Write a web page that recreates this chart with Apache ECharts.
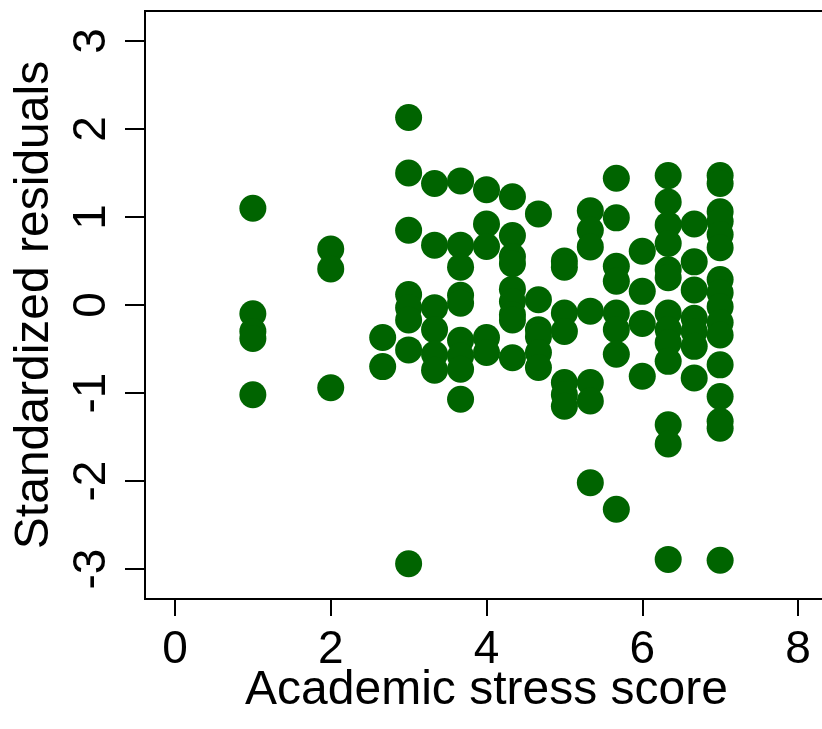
<!DOCTYPE html>
<html>
<head>
<meta charset="utf-8">
<script src="https://cdn.jsdelivr.net/npm/echarts@6/dist/echarts.min.js"></script>
<style>
html,body{margin:0;padding:0;background:#fff;}
#chart{width:822px;height:729px;}
</style>
</head>
<body>
<div id="chart"></div>
<script>
// Academic stress score columns (x) and the standardized residuals read in each column (y)
const stressScores = [1, 2, 2.667, 3, 3.333, 3.667, 4, 4.333, 4.667, 5, 5.333, 5.667, 6, 6.333, 6.667, 7];
const residualsByScore = [
  [1.10, -0.10, -0.30, -0.38, -1.02],
  [0.635, 0.41, -0.94],
  [-0.37, -0.70],
  [2.13, 1.50, 0.85, 0.12, -0.03, -0.17, -0.51, -2.94],
  [1.38, 0.68, -0.03, -0.28, -0.56, -0.74],
  [1.41, 0.68, 0.43, 0.11, 0.02, -0.40, -0.58, -0.73, -1.07],
  [1.31, 0.92, 0.665, -0.37, -0.54],
  [1.23, 0.79, 0.55, 0.47, 0.18, 0.04, -0.11, -0.17, -0.60],
  [1.035, 0.06, -0.28, -0.36, -0.54, -0.71],
  [0.50, 0.43, -0.09, -0.30, -0.88, -1.02, -1.15],
  [1.07, 0.85, 0.66, -0.07, -0.88, -1.09, -2.02],
  [1.44, 0.99, 0.44, 0.27, -0.09, -0.28, -0.56, -2.32],
  [0.61, 0.155, -0.21, -0.81],
  [1.47, 1.17, 0.91, 0.70, 0.40, 0.31, -0.09, -0.28, -0.43, -0.64, -1.36, -1.58, -2.89],
  [0.92, 0.49, 0.17, -0.15, -0.30, -0.47, -0.83],
  [1.47, 1.38, 1.06, 0.95, 0.80, 0.65, 0.29, 0.14, -0.02, -0.20, -0.34, -0.68, -1.04, -1.32, -1.40, -2.90]
];
const xTickValues = [0, 2, 4, 6, 8];
const yTickValues = [-3, -2, -1, 0, 1, 2, 3];
const xTitle = 'Academic stress score';
const yTitle = 'Standardized residuals';

const points = [];
stressScores.forEach((s, i) => {
  residualsByScore[i].forEach(r => points.push([s, r]));
});

const chart = echarts.init(document.getElementById('chart'), null, {renderer: 'canvas'});
const fontFamily = '"Liberation Sans", Arial, Helvetica, sans-serif';
chart.setOption({
  animation: false,
  backgroundColor: '#ffffff',
  grid: {
    left: 145, top: 11, width: 683, height: 588,
    outerBoundsMode: 'none', containLabel: false,
    show: true, borderColor: '#000', borderWidth: 2, backgroundColor: 'transparent'
  },
  xAxis: {
    type: 'value',
    min: -0.385, max: 8.385,
    name: xTitle,
    nameLocation: 'middle',
    nameMoveOverlap: false,
    nameGap: 68,
    nameTextStyle: {color: '#000', fontSize: 48, fontFamily: fontFamily},
    axisLine: {show: true, onZero: false, lineStyle: {color: '#000', width: 2}},
    axisTick: {show: true, customValues: xTickValues, length: 17, lineStyle: {color: '#000', width: 2}},
    axisLabel: {show: true, customValues: xTickValues, margin: 28, color: '#000', fontSize: 46, fontFamily: fontFamily,
      formatter: v => String(v)},
    splitLine: {show: false}
  },
  yAxis: {
    type: 'value',
    min: -3.34, max: 3.34,
    name: yTitle,
    nameLocation: 'middle',
    nameMoveOverlap: false,
    nameGap: 86,
    nameRotate: 90,
    nameTextStyle: {color: '#000', fontSize: 48, fontFamily: fontFamily},
    axisLine: {show: true, onZero: false, lineStyle: {color: '#000', width: 2}},
    axisTick: {show: true, customValues: yTickValues, length: 20, lineStyle: {color: '#000', width: 2}},
    axisLabel: {show: true, customValues: yTickValues, rotate: 90, margin: 30, color: '#000', fontSize: 46, fontFamily: fontFamily,
      formatter: v => String(v)},
    splitLine: {show: false}
  },
  series: [{
    type: 'scatter',
    data: points,
    symbol: 'circle',
    symbolSize: 27,
    itemStyle: {color: '#006400', opacity: 1},
    emphasis: {disabled: true}
  }]
});
</script>
</body>
</html>
